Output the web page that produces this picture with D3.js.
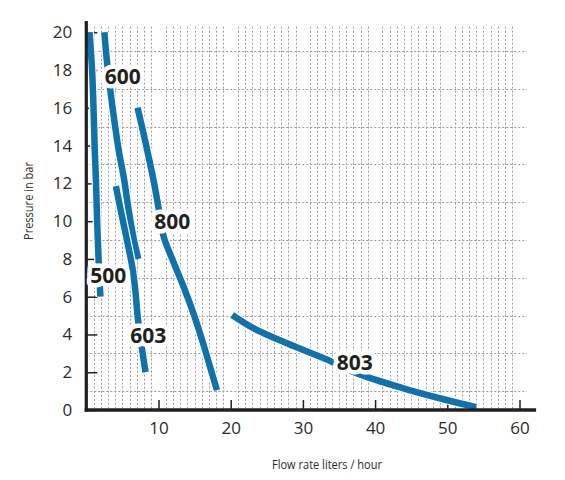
<!DOCTYPE html>
<html lang="en">
<head>
    <meta charset="UTF-8">
    <title>Pump curves - pressure vs flow rate</title>
    <script src="https://d3js.org/d3.v7.min.js"></script>
    <style>
        body { margin: 0; background: #fff; }
        text { font-family: "Open Sans", "Noto Sans", sans-serif; }
    </style>
</head>
<body>
    <div id="chart"></div>
    <script>
        // Curve data: [flow l/h, pressure bar]
        var curve500 = [[0.45, 20], [0.8, 18], [1.0, 16], [1.15, 14], [1.35, 12], [1.5, 10], [1.7, 8], [1.95, 6]];
        var curve600 = [[2.5, 20], [2.85, 18.5], [3.3, 17], [4.0, 15], [4.6, 13.5], [5.2, 12.3], [5.9, 10.5], [6.6, 9], [7.2, 8]];
        var curve603 = [[4.1, 11.85], [4.7, 10.7], [5.3, 9.6], [5.9, 8.5], [6.4, 7.5], [6.8, 6.3], [7.1, 5.0], [7.5, 3.8], [7.85, 2.9], [8.2, 2.0]];
        var curve800 = [[7.1, 16], [7.95, 14.6], [8.75, 13.2], [9.45, 11.9], [10.1, 10.5], [10.7, 9.2], [12.0, 7.9], [13.5, 6.5], [14.85, 5.1], [16.2, 3.5], [17.2, 2.2], [18.1, 1.05]];
        var curve803 = [[20.2, 5.03], [23.2, 4.32], [27.8, 3.53], [34.0, 2.56], [37.5, 1.94], [43.9, 1.15], [49.9, 0.53], [54.0, 0.15]];

        var curveNames = ["500", "600", "603", "800", "803"];
        // label anchor points in data units
        var labelX = [3.03, 5.04, 8.57, 11.9, 37.2];
        var labelY = [7.12, 17.67, 3.97, 10.0, 2.52];

        var xTicks = [10, 20, 30, 40, 50, 60];
        var yTicks = [0, 2, 4, 6, 8, 10, 12, 14, 16, 18, 20];

        var width = 565, height = 480;
        var blue = "#1072ab";
        var ink = "#231f20";

        var svg = d3.select("#chart")
            .append("svg")
            .attr("width", width)
            .attr("height", height);

        var x = d3.scaleLinear().domain([0, 60]).range([86.3, 519.5]);
        var y = d3.scaleLinear().domain([0, 20]).range([410, 32.3]);

        // dotted grid: every unit across, odd values up
        var vGrid = d3.range(1, 60).filter(function(v) { return v % 10 !== 0; });
        var hGrid = d3.range(1, 20, 2);

        var grid = svg.append("g")
            .attr("stroke", "#9a9a9a")
            .attr("stroke-width", 1)
            .attr("stroke-dasharray", "2,2");

        grid.selectAll("line.v")
            .data(vGrid)
            .enter()
            .append("line")
            .attr("class", "v")
            .attr("x1", function(d) { return Math.round(x(d)) + 0.5; })
            .attr("x2", function(d) { return Math.round(x(d)) + 0.5; })
            .attr("y1", y(20.3))
            .attr("y2", y(0));

        grid.selectAll("line.h")
            .data(hGrid)
            .enter()
            .append("line")
            .attr("class", "h")
            .attr("x1", x(0))
            .attr("x2", x(61))
            .attr("y1", function(d) { return Math.round(y(d)) + 0.5; })
            .attr("y2", function(d) { return Math.round(y(d)) + 0.5; });

        // Axes
        var yAxis = d3.axisLeft(y)
            .tickValues(yTicks)
            .tickSizeInner(-11)
            .tickSizeOuter(0)
            .tickPadding(14);

        var yg = svg.append("g")
            .attr("transform", "translate(" + x(0) + ",0)")
            .call(yAxis);

        var xAxis = d3.axisBottom(x)
            .tickValues(xTicks)
            .tickSizeInner(-10)
            .tickSizeOuter(0)
            .tickPadding(12);

        var xg = svg.append("g")
            .attr("transform", "translate(0," + y(0) + ")")
            .call(xAxis);

        [yg, xg].forEach(function(g) {
            g.select(".domain").remove();
            g.selectAll(".tick line").attr("stroke", ink).attr("stroke-width", 1.5);
            g.selectAll(".tick text")
                .attr("fill", "#2b2b2b")
                .style("font-size", "17px");
        });

        // Curves: white casing under each blue line
        var line = d3.line()
            .x(function(d) { return x(d[0]); })
            .y(function(d) { return y(d[1]); })
            .curve(d3.curveCatmullRom);

        var curves = [curve500, curve600, curve603, curve800, curve803];
        var cg = svg.append("g").attr("fill", "none");
        curves.forEach(function(c) {
            cg.append("path")
                .attr("d", line(c))
                .attr("stroke", "#fff")
                .attr("stroke-width", 9);
            cg.append("path")
                .attr("d", line(c))
                .attr("stroke", blue)
                .attr("stroke-width", 6.5);
        });

        // axis lines drawn over grid and curves
        svg.append("line")
            .attr("x1", x(0)).attr("x2", x(0))
            .attr("y1", y(20.6)).attr("y2", y(0) + 1.5)
            .attr("stroke", ink)
            .attr("stroke-width", 3.2);
        svg.append("line")
            .attr("x1", x(0) - 1.6).attr("x2", x(62.3))
            .attr("y1", y(0)).attr("y2", y(0))
            .attr("stroke", ink)
            .attr("stroke-width", 3.4);

        // Curve labels with white halo
        svg.append("g")
            .selectAll("text")
            .data(curveNames)
            .enter()
            .append("text")
            .attr("x", function(d, i) { return x(labelX[i]); })
            .attr("y", function(d, i) { return y(labelY[i]); })
            .attr("dy", "0.36em")
            .attr("text-anchor", "middle")
            .style("font-size", "21px")
            .style("font-weight", "bold")
            .attr("fill", ink)
            .attr("stroke", "#fff")
            .attr("stroke-width", 9)
            .attr("stroke-linejoin", "round")
            .attr("paint-order", "stroke")
            .text(function(d) { return d; });

        // Axis titles
        svg.append("text")
            .attr("x", 327)
            .attr("y", 469)
            .attr("text-anchor", "middle")
            .attr("textLength", 110)
            .attr("lengthAdjust", "spacingAndGlyphs")
            .style("font-size", "13px")
            .attr("fill", "#2b2b2b")
            .text("Flow rate liters / hour");

        svg.append("text")
            .attr("transform", "translate(33,201) rotate(-90)")
            .attr("text-anchor", "middle")
            .attr("textLength", 78)
            .attr("lengthAdjust", "spacingAndGlyphs")
            .style("font-size", "13px")
            .attr("fill", "#2b2b2b")
            .text("Pressure in bar");
    </script>
</body>
</html>
